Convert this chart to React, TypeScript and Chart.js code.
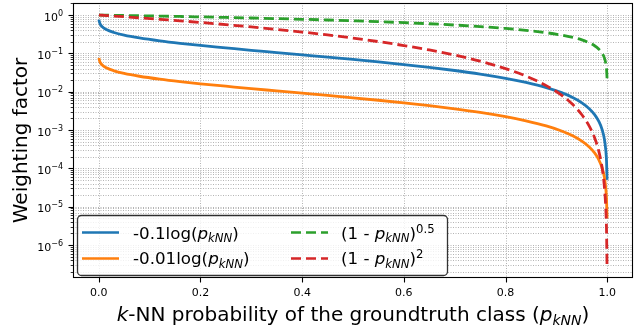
import React, { useEffect, useRef } from 'react';
import { Chart, registerables } from 'chart.js';

Chart.register(...registerables);

// ---- data ----
const pKNN = [
  0.0005, 0.001, 0.003, 0.007, 0.015, 0.03, 0.05, 0.08, 0.12, 0.16, 0.2, 0.25, 0.3, 0.35,
  0.4, 0.45, 0.5, 0.55, 0.6, 0.65, 0.7, 0.75, 0.8, 0.84, 0.88, 0.91, 0.93, 0.95, 0.965,
  0.975, 0.983, 0.99, 0.994, 0.997, 0.9985, 0.9995,
];
const negTenthLog = [
  0.76, 0.691, 0.581, 0.496, 0.42, 0.351, 0.3, 0.253, 0.212, 0.183, 0.161, 0.139, 0.12, 0.105,
  0.0916, 0.0799, 0.0693, 0.0598, 0.0511, 0.0431, 0.0357, 0.0288, 0.0223, 0.0174, 0.0128,
  0.00943, 0.00726, 0.00513, 0.00356, 0.00253, 0.00171, 0.00101, 0.000602, 0.0003, 0.00015,
  0.00005,
];
const negHundredthLog = [
  0.076, 0.0691, 0.0581, 0.0496, 0.042, 0.0351, 0.03, 0.0253, 0.0212, 0.0183, 0.0161, 0.0139,
  0.012, 0.0105, 0.00916, 0.00799, 0.00693, 0.00598, 0.00511, 0.00431, 0.00357, 0.00288,
  0.00223, 0.00174, 0.00128, 0.000943, 0.000726, 0.000513, 0.000356, 0.000253, 0.000171,
  0.000101, 0.0000602, 0.00003, 0.000015, 0.000005,
];
const sqrtComplement = [
  0.9997, 0.9995, 0.9985, 0.9965, 0.9925, 0.985, 0.975, 0.959, 0.938, 0.917, 0.894, 0.866,
  0.837, 0.806, 0.775, 0.742, 0.707, 0.671, 0.632, 0.592, 0.548, 0.5, 0.447, 0.4, 0.346, 0.3,
  0.265, 0.224, 0.187, 0.158, 0.13, 0.1, 0.0775, 0.0548, 0.0387, 0.0224,
];
const squaredComplement = [
  0.999, 0.998, 0.994, 0.986, 0.97, 0.941, 0.9025, 0.846, 0.774, 0.706, 0.64, 0.5625, 0.49,
  0.4225, 0.36, 0.3025, 0.25, 0.2025, 0.16, 0.1225, 0.09, 0.0625, 0.04, 0.0256, 0.0144, 0.0081,
  0.0049, 0.0025, 0.00123, 0.000625, 0.000289, 0.0001, 0.000036, 0.000009, 0.00000225,
  0.00000025,
];
const xTickValues = [0, 0.2, 0.4, 0.6, 0.8, 1.0];
const xTickLabels = ['0.0', '0.2', '0.4', '0.6', '0.8', '1.0'];
const yMajorExponents = [-6, -5, -4, -3, -2, -1, 0];
const yTickLabels = ['−6', '−5', '−4', '−3', '−2', '−1', '0'];
const yGridDecades = [-7, -6, -5, -4, -3, -2, -1, 0];
const yGridDigits = [1, 2, 3, 4, 5, 6, 7, 8, 9];

const FAM = '"DejaVu Sans", sans-serif';
const C_BLUE = '#1f77b4';
const C_ORANGE = '#ff7f0e';
const C_GREEN = '#2ca02c';
const C_RED = '#d62728';
const DASH = [10, 5];

type Seg = { t: string; it?: boolean; s?: number; dy?: number };

function drawRich(ctx: CanvasRenderingContext2D, segs: Seg[], x: number, y: number, size: number, align: 'left' | 'center') {
  const fontFor = (sg: Seg) => `${sg.it ? 'italic ' : ''}${size * (sg.s ?? 1)}px ${FAM}`;
  let total = 0;
  const widths = segs.map((sg) => {
    ctx.font = fontFor(sg);
    const w = ctx.measureText(sg.t).width;
    total += w;
    return w;
  });
  let cx = align === 'center' ? x - total / 2 : x;
  ctx.textAlign = 'left';
  ctx.textBaseline = 'alphabetic';
  segs.forEach((sg, i) => {
    ctx.font = fontFor(sg);
    ctx.fillText(sg.t, cx, y + (sg.dy ?? 0));
    cx += widths[i];
  });
}

const legendItems: { color: string; dash: number[]; segs: Seg[] }[] = [
  { color: C_BLUE, dash: [], segs: [{ t: '-0.1log(' }, { t: 'p', it: true }, { t: 'kNN', it: true, s: 0.7, dy: 3.5 }, { t: ')' }] },
  { color: C_ORANGE, dash: [], segs: [{ t: '-0.01log(' }, { t: 'p', it: true }, { t: 'kNN', it: true, s: 0.7, dy: 3.5 }, { t: ')' }] },
  { color: C_GREEN, dash: DASH, segs: [{ t: '(1 - ' }, { t: 'p', it: true }, { t: 'kNN', it: true, s: 0.7, dy: 3.5 }, { t: ')' }, { t: '0.5', s: 0.7, dy: -6 }] },
  { color: C_RED, dash: DASH, segs: [{ t: '(1 - ' }, { t: 'p', it: true }, { t: 'kNN', it: true, s: 0.7, dy: 3.5 }, { t: ')' }, { t: '2', s: 0.7, dy: -6 }] },
];

const decorPlugin = {
  id: 'decor',
  beforeDatasetsDraw(chart: any) {
    const { ctx, chartArea: a, scales } = chart;
    const x = scales.x;
    const y = scales.y;
    ctx.save();
    ctx.strokeStyle = '#b4b4b4';
    ctx.lineWidth = 1;
    ctx.setLineDash([1, 1.5]);
    yGridDecades.forEach((k) => {
      yGridDigits.forEach((d) => {
        const v = d * Math.pow(10, k);
        const py = y.getPixelForValue(v);
        if (py < a.top || py > a.bottom) return;
        const ry = Math.round(py) + 0.5;
        ctx.beginPath();
        ctx.moveTo(a.left, ry);
        ctx.lineTo(a.right, ry);
        ctx.stroke();
      });
    });
    xTickValues.forEach((v) => {
      const px = Math.round(x.getPixelForValue(v)) + 0.5;
      ctx.beginPath();
      ctx.moveTo(px, a.top);
      ctx.lineTo(px, a.bottom);
      ctx.stroke();
    });
    ctx.restore();
  },
  afterDatasetsDraw(chart: any) {
    const { ctx, chartArea: a, scales } = chart;
    const x = scales.x;
    const y = scales.y;
    ctx.save();
    ctx.setLineDash([]);
    // spines
    ctx.strokeStyle = '#000';
    ctx.lineWidth = 1.1;
    ctx.strokeRect(Math.round(a.left) + 0.5, Math.round(a.top) + 0.5, Math.round(a.right - a.left) - 1, Math.round(a.bottom - a.top) - 1);
    // y ticks
    const lx = Math.round(a.left) + 0.5;
    yGridDecades.forEach((k) => {
      yGridDigits.forEach((d) => {
        const v = d * Math.pow(10, k);
        const py = y.getPixelForValue(v);
        if (py < a.top || py > a.bottom) return;
        const ry = Math.round(py) + 0.5;
        const len = d === 1 ? 5 : 2.8;
        ctx.lineWidth = d === 1 ? 1.1 : 0.8;
        ctx.beginPath();
        ctx.moveTo(lx, ry);
        ctx.lineTo(lx - len, ry);
        ctx.stroke();
      });
    });
    // x ticks
    const by = Math.round(a.bottom) - 0.5;
    ctx.lineWidth = 1.1;
    xTickValues.forEach((v) => {
      const px = Math.round(x.getPixelForValue(v)) + 0.5;
      ctx.beginPath();
      ctx.moveTo(px, by);
      ctx.lineTo(px, by + 5);
      ctx.stroke();
    });
    ctx.fillStyle = '#000';
    // x tick labels
    ctx.font = `11px ${FAM}`;
    ctx.textAlign = 'center';
    ctx.textBaseline = 'alphabetic';
    xTickValues.forEach((v, i) => {
      const px = x.getPixelForValue(v);
      ctx.fillText(xTickLabels[i], px, a.bottom + 18);
    });
    // y tick labels
    yMajorExponents.forEach((k, i) => {
      const py = y.getPixelForValue(Math.pow(10, k));
      ctx.font = `8px ${FAM}`;
      const we = ctx.measureText(yTickLabels[i]).width;
      ctx.font = `11px ${FAM}`;
      const wb = ctx.measureText('10').width;
      const right = a.left - 10;
      ctx.textAlign = 'left';
      ctx.fillText('10', right - we - wb, py + 5.5);
      ctx.font = `8px ${FAM}`;
      ctx.fillText(yTickLabels[i], right - we, py + 0.5);
    });
    // axis titles
    drawRich(
      ctx,
      [{ t: 'k', it: true }, { t: '-NN probability of the groundtruth class (' }, { t: 'p', it: true }, { t: 'kNN', it: true, s: 0.7, dy: 4 }, { t: ')' }],
      (a.left + a.right) / 2,
      321,
      20,
      'center',
    );
    ctx.save();
    ctx.translate(27, (a.top + a.bottom) / 2);
    ctx.rotate(-Math.PI / 2);
    drawRich(ctx, [{ t: 'Weighting factor' }], 0, 0, 20, 'center');
    ctx.restore();
    // legend
    const bx = 77, byy = 215, bw = 370, bh = 60;
    ctx.beginPath();
    ctx.roundRect(bx + 0.5, byy + 0.5, bw, bh, 4);
    ctx.fillStyle = 'rgba(255,255,255,0.8)';
    ctx.fill();
    ctx.strokeStyle = 'rgba(0,0,0,0.8)';
    ctx.lineWidth = 1.3;
    ctx.stroke();
    const cols = [
      { hx0: 82, hx1: 119, tx: 133 },
      { hx0: 291, hx1: 328, tx: 341 },
    ];
    const rows = [{ hy: 232.5, ty: 238.5 }, { hy: 258.5, ty: 264 }];
    legendItems.forEach((it, i) => {
      const c = cols[Math.floor(i / 2)];
      const r = rows[i % 2];
      ctx.strokeStyle = it.color;
      ctx.lineWidth = 2.7;
      ctx.lineCap = 'butt';
      ctx.setLineDash(it.dash);
      ctx.beginPath();
      ctx.moveTo(c.hx0, r.hy);
      ctx.lineTo(c.hx1, r.hy);
      ctx.stroke();
      ctx.setLineDash([]);
      ctx.fillStyle = '#000';
      drawRich(ctx, it.segs, c.tx, r.ty, 16.7, 'left');
    });
    ctx.restore();
  },
};

function series(values: number[]) {
  return pKNN.map((p, i) => ({ x: p, y: values[i] }));
}

export default function App() {
  const ref = useRef<HTMLCanvasElement | null>(null);
  useEffect(() => {
    if (!ref.current) return;
    const common = { pointRadius: 0, borderWidth: 2.8, fill: false, cubicInterpolationMode: 'monotone' as const };
    const chart = new Chart(ref.current, {
      type: 'line',
      data: {
        datasets: [
          { ...common, label: 'blue', data: series(negTenthLog), borderColor: C_BLUE, order: 4 },
          { ...common, label: 'orange', data: series(negHundredthLog), borderColor: C_ORANGE, order: 3 },
          { ...common, label: 'green', data: series(sqrtComplement), borderColor: C_GREEN, borderDash: DASH, order: 2 },
          { ...common, label: 'red', data: series(squaredComplement), borderColor: C_RED, borderDash: DASH, order: 1 },
        ],
      },
      options: {
        animation: false,
        responsive: false,
        devicePixelRatio: 1,
        layout: { padding: { top: 3, right: 2, left: 0, bottom: 0 } },
        plugins: { legend: { display: false }, tooltip: { enabled: false } },
        scales: {
          x: {
            type: 'linear',
            min: -0.0505,
            max: 1.0505,
            grid: { display: false },
            border: { display: false },
            ticks: { display: false },
            afterFit: (s: any) => { s.height = 49; },
          },
          y: {
            type: 'logarithmic',
            min: 1.38e-7,
            max: 2.06,
            grid: { display: false },
            border: { display: false },
            ticks: { display: false },
            afterFit: (s: any) => { s.width = 73; },
          },
        },
      },
      plugins: [decorPlugin],
    });
    return () => chart.destroy();
  }, []);
  return (
    <div style={{ position: 'fixed', left: 0, top: 0, width: 635, height: 327, background: '#fff' }}>
      <canvas ref={ref} width={635} height={327} style={{ width: 635, height: 327, display: 'block' }} />
    </div>
  );
}
